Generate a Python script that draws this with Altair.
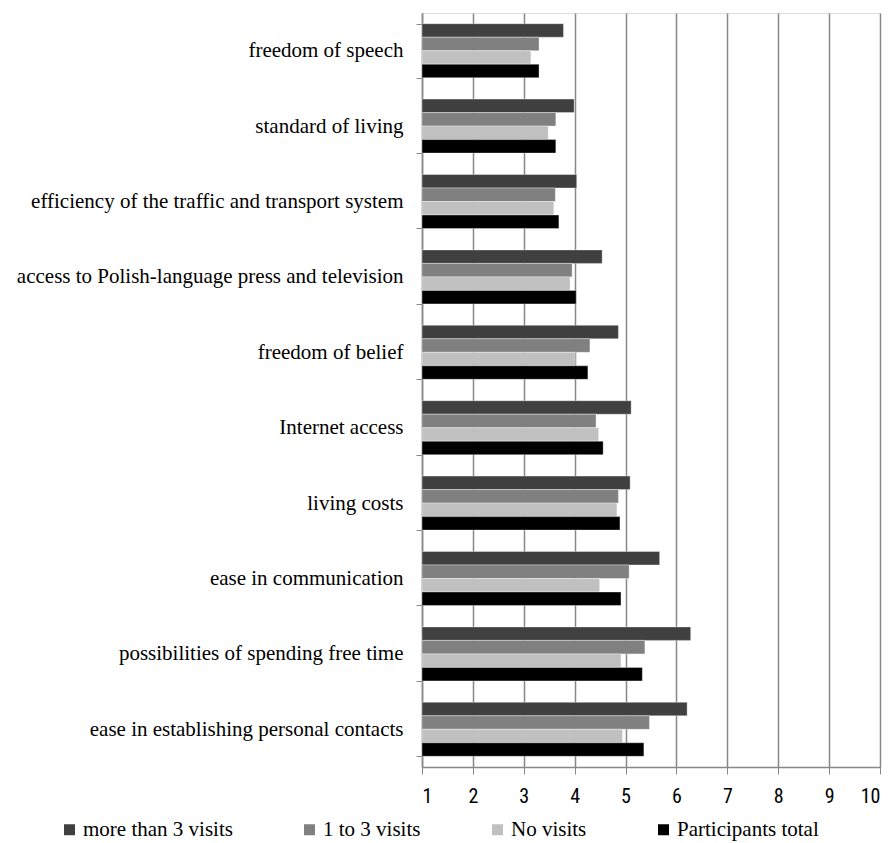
import altair as alt
import pandas as pd

categories = [
    "freedom of speech",
    "standard of living",
    "efficiency of the traffic and transport system",
    "access to Polish-language press and television",
    "freedom of belief ",
    "Internet access",
    "living costs",
    "ease in communication ",
    "possibilities of spending free time",
    "ease in establishing personal contacts",
]
series = ["more than 3 visits", "1 to 3 visits", "No visits", "Participants total"]
colors = ["#404040", "#808080", "#c0c0c0", "#000000"]

more_than_3 = [3.78, 3.99, 4.04, 4.54, 4.86, 5.11, 5.09, 5.67, 6.28, 6.21]
one_to_3 = [3.30, 3.63, 3.62, 3.95, 4.30, 4.42, 4.86, 5.07, 5.38, 5.47]
no_visits = [3.14, 3.48, 3.59, 3.91, 4.01, 4.47, 4.83, 4.49, 4.91, 4.94]
total = [3.30, 3.63, 3.69, 4.03, 4.26, 4.56, 4.89, 4.91, 5.33, 5.36]

x_ticks = [1, 2, 3, 4, 5, 6, 7, 8, 9, 10]

rows = []
for s, vals in zip(series, [more_than_3, one_to_3, no_visits, total]):
    for c, v in zip(categories, vals):
        rows.append({"category": c, "series": s, "value": v})
df = pd.DataFrame(rows)

serif = "Liberation Serif"
sans_narrow = "Liberation Sans Narrow, Roboto Condensed, DejaVu Sans Condensed, sans-serif"

chart = alt.Chart(df).mark_bar(stroke="#ffffff", strokeWidth=0.6, strokeOpacity=0.6).encode(
    y=alt.Y(
        "category:N",
        sort=categories,
        title=None,
        scale=alt.Scale(paddingInner=0.284, paddingOuter=0.142),
        axis=alt.Axis(
            tickBand="extent",
            tickSize=6,
            tickColor="#888888",
            domainColor="#888888",
            domainWidth=1.5,
            labelPadding=13,
            labelFont=serif,
            labelFontSize=21,
            labelColor="#000000",
            labelLimit=500,
            grid=False,
        ),
    ),
    yOffset=alt.YOffset("series:N", sort=series, scale=alt.Scale(paddingInner=0, paddingOuter=0)),
    x=alt.X(
        "value:Q",
        title=None,
        scale=alt.Scale(domain=[1, 10], zero=False, nice=False),
        axis=alt.Axis(
            values=x_ticks,
            format="d",
            grid=True,
            gridColor="#888888",
            gridWidth=1.5,
            domainColor="#888888",
            domainWidth=1.5,
            tickColor="#888888",
            tickSize=7,
            labelPadding=12,
            labelFont=sans_narrow,
            labelFontSize=20,
            labelColor="#000000",
        ),
    ),
    x2=alt.datum(1),
    color=alt.Color(
        "series:N",
        sort=series,
        scale=alt.Scale(domain=series, range=colors),
        legend=alt.Legend(
            title=None,
            orient="none",
            legendX=-363,
            legendY=806,
            direction="horizontal",
            symbolType="square",
            symbolSize=121,
            symbolStrokeWidth=0,
            symbolOffset=0,
            labelFont=serif,
            labelFontSize=21,
            labelColor="#000000",
            labelOffset=3,
            columnPadding=66,
            labelLimit=300,
        ),
    ),
).properties(
    width=458,
    height=754,
    autosize=alt.AutoSizeParams(type="none"),
    padding={"left": 422, "top": 13, "right": 12, "bottom": 76},
).configure_view(stroke=None).configure(background="#ffffff")

chart.save("out.html", embed_options={"renderer": "svg", "actions": False})
